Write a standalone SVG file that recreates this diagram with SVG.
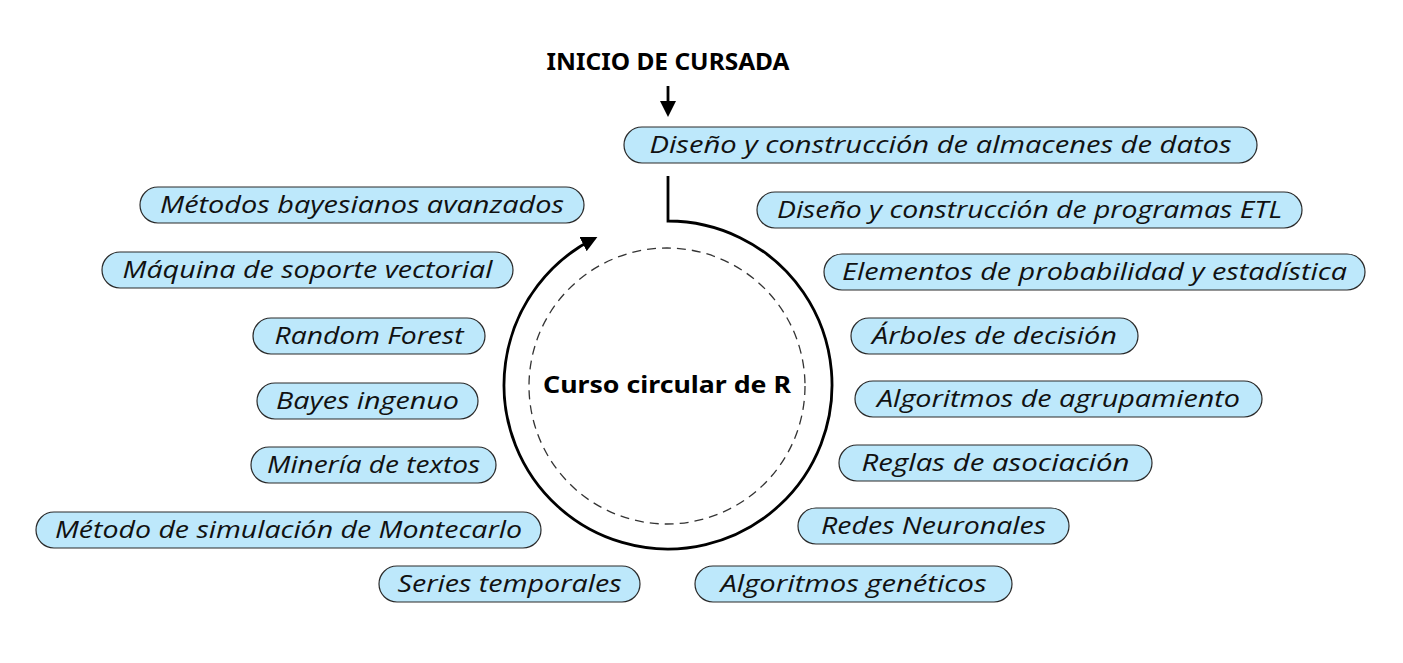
<svg xmlns="http://www.w3.org/2000/svg" width="1403" height="663" viewBox="0 0 1403 663">
<style>
.pill{fill:#bde8fb;stroke:#2a2a2a;stroke-width:1.2}
.lbl{font-family:"Open Sans","Noto Sans","Liberation Sans",sans-serif;font-style:italic;font-size:23px;fill:#111;text-anchor:middle}
.bold{font-family:"Noto Sans","Open Sans","Liberation Sans",sans-serif;font-weight:700;fill:#000;text-anchor:middle}
.conn{fill:none;stroke:#000;stroke-width:2.8}
</style>
<defs>
<marker id="ah" markerUnits="userSpaceOnUse" markerWidth="16" markerHeight="16" refX="13" refY="8" orient="auto">
<path d="M0,0 L16,8 L0,16 z" fill="#000"/>
</marker>
</defs>
<rect width="1403" height="663" fill="#fff"/>

<g id="title"><text class="bold" x="668" y="70" font-size="24" textLength="243" lengthAdjust="spacingAndGlyphs">INICIO DE CURSADA</text></g>

<g id="connectors">
<line class="conn" x1="668" y1="86" x2="668" y2="103" stroke-width="2"/>
<path d="M660,101 L676,101 L668,117 z" fill="#000"/>
<path class="conn" d="M668,176 L668,221 A164,164 0 1 1 594.7,238.3" marker-end="url(#ah)"/>
</g>

<g id="center">
<circle cx="667" cy="386" r="138" fill="none" stroke="#333" stroke-width="1.3" stroke-dasharray="9 6"/>
<text class="bold" x="667" y="393" font-size="23" textLength="248" lengthAdjust="spacingAndGlyphs">Curso circular de R</text>
</g>

<g id="n1"><rect class="pill" x="624" y="127" width="633" height="36" rx="18"/><text class="lbl" x="940.5" y="153" textLength="582" lengthAdjust="spacingAndGlyphs">Diseño y construcción de almacenes de datos</text></g>
<g id="n2"><rect class="pill" x="757" y="192" width="545" height="36" rx="18"/><text class="lbl" x="1029.5" y="218" textLength="505" lengthAdjust="spacingAndGlyphs">Diseño y construcción de programas ETL</text></g>
<g id="n3"><rect class="pill" x="824" y="254" width="541" height="36" rx="18"/><text class="lbl" x="1094.5" y="280" textLength="505" lengthAdjust="spacingAndGlyphs">Elementos de probabilidad y estadística</text></g>
<g id="n4"><rect class="pill" x="851" y="318" width="287" height="36" rx="18"/><text class="lbl" x="994.5" y="344" textLength="245" lengthAdjust="spacingAndGlyphs">Árboles de decisión</text></g>
<g id="n5"><rect class="pill" x="855" y="381" width="407" height="36" rx="18"/><text class="lbl" x="1058.5" y="407" textLength="363" lengthAdjust="spacingAndGlyphs">Algoritmos de agrupamiento</text></g>
<g id="n6"><rect class="pill" x="839" y="445" width="313" height="36" rx="18"/><text class="lbl" x="995.5" y="471" textLength="268" lengthAdjust="spacingAndGlyphs">Reglas de asociación</text></g>
<g id="n7"><rect class="pill" x="798" y="508" width="271" height="36" rx="18"/><text class="lbl" x="933.5" y="534" textLength="225" lengthAdjust="spacingAndGlyphs">Redes Neuronales</text></g>
<g id="n8"><rect class="pill" x="695" y="566" width="317" height="36" rx="18"/><text class="lbl" x="853.5" y="592" textLength="266" lengthAdjust="spacingAndGlyphs">Algoritmos genéticos</text></g>

<g id="n9"><rect class="pill" x="140" y="187" width="444" height="36" rx="18"/><text class="lbl" x="362" y="213" textLength="404" lengthAdjust="spacingAndGlyphs">Métodos bayesianos avanzados</text></g>
<g id="n10"><rect class="pill" x="102" y="252" width="411" height="36" rx="18"/><text class="lbl" x="307.5" y="278" textLength="370" lengthAdjust="spacingAndGlyphs">Máquina de soporte vectorial</text></g>
<g id="n11"><rect class="pill" x="253" y="318" width="232" height="36" rx="18"/><text class="lbl" x="369" y="344" textLength="189" lengthAdjust="spacingAndGlyphs">Random Forest</text></g>
<g id="n12"><rect class="pill" x="257" y="383" width="221" height="36" rx="18"/><text class="lbl" x="367.5" y="409" textLength="183" lengthAdjust="spacingAndGlyphs">Bayes ingenuo</text></g>
<g id="n13"><rect class="pill" x="251" y="447" width="245" height="36" rx="18"/><text class="lbl" x="373.5" y="473" textLength="213" lengthAdjust="spacingAndGlyphs">Minería de textos</text></g>
<g id="n14"><rect class="pill" x="36" y="512" width="505" height="36" rx="18"/><text class="lbl" x="288.5" y="538" textLength="467" lengthAdjust="spacingAndGlyphs">Método de simulación de Montecarlo</text></g>
<g id="n15"><rect class="pill" x="379" y="566" width="261" height="36" rx="18"/><text class="lbl" x="509.5" y="592" textLength="224" lengthAdjust="spacingAndGlyphs">Series temporales</text></g>
</svg>
